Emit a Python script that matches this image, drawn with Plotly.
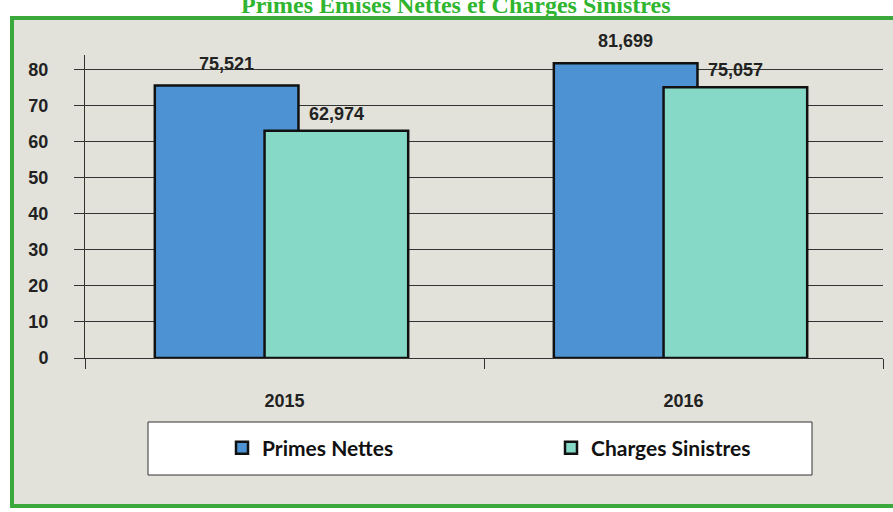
import plotly.graph_objects as go

# data
years = ['2015', '2016']
primes_nettes = [75.521, 81.699]
charges_sinistres = [62.974, 75.057]
y_ticks = [0, 10, 20, 30, 40, 50, 60, 70, 80]

BLUE = '#4d93d4'
TEAL = '#86d8c7'
BG = '#e2e2da'
GREEN = '#3aa83a'

# pixel layout helpers (plot area 85..883 x, 55..358 y)
L, R, T, B = 85, 10, 55, 154
W, H = 893, 512
pw, ph = W - L - R, H - T - B


def px(x):
    return (x - L) / pw


def py(y):
    return (H - B - y) / ph


def fmt(v):
    return f'{v:.3f}'.replace('.', ',')


fig = go.Figure()

fig.add_trace(go.Bar(
    x=years, y=primes_nettes, name='Primes Nettes',
    width=0.36, offset=-0.325,
    marker=dict(color=BLUE, line=dict(color='#111111', width=2.5)),
))
fig.add_trace(go.Bar(
    x=years, y=charges_sinistres, name='Charges Sinistres',
    width=0.36, offset=-0.05,
    marker=dict(color=TEAL, line=dict(color='#111111', width=2.5)),
))

annotations = []
for i, v in enumerate(primes_nettes):
    annotations.append(dict(x=i - 0.145, y=v, text=fmt(v), showarrow=False,
                            yanchor='bottom', yshift=10,
                            font=dict(family='Liberation Sans', size=18, color='#222222')))
for i, v in enumerate(charges_sinistres):
    annotations.append(dict(x=i + 0.13, y=v, text=fmt(v), showarrow=False,
                            yanchor='bottom', yshift=5,
                            font=dict(family='Liberation Sans', size=18, color='#222222')))

# title sitting just above the frame (cut at the top like the scan)
annotations.append(dict(xref='paper', yref='paper', x=px(455), y=py(5),
                        text='<b>Primes Emises Nettes et Charges Sinistres</b>',
                        showarrow=False, xanchor='center', yanchor='middle',
                        font=dict(family='Liberation Serif', size=24, color='#2fb52f')))

shapes = [
    # green frame with grey fill
    dict(type='rect', xref='paper', yref='paper', layer='below',
         x0=px(12), x1=px(960), y0=py(506), y1=py(18),
         fillcolor=BG, line=dict(color=GREEN, width=4)),
    # legend box
    dict(type='rect', xref='paper', yref='paper', layer='below',
         x0=px(148), x1=px(812), y0=py(475), y1=py(422),
         fillcolor='white', line=dict(color='#333333', width=1)),
]

fig.update_layout(
    width=W, height=H,
    margin=dict(l=L, r=R, t=T, b=B, autoexpand=False),
    paper_bgcolor='white',
    plot_bgcolor='rgba(0,0,0,0)',
    barmode='overlay',
    showlegend=True,
    legend=dict(orientation='h', xref='container', yref='container',
                x=222 / W, xanchor='left', y=1 - 448 / H, yanchor='middle',
                entrywidth=284, entrywidthmode='pixels', bgcolor='rgba(0,0,0,0)',
                font=dict(family='Lato', size=21, color='#111111', weight='bold'),
                itemclick=False),
    annotations=annotations,
    shapes=shapes,
    font=dict(family='Liberation Sans', color='#222222'),
)

fig.update_xaxes(
    type='category', range=[-0.5, 1.5], automargin=False,
    showline=True, linecolor='#333333', linewidth=1,
    ticks='outside', tickson='boundaries', ticklen=10, tickcolor='#333333',
    ticklabelstandoff=26,
    tickfont=dict(family='Liberation Sans', size=18, color='#222222', weight='bold'),
    showgrid=False,
)

fig.update_yaxes(
    range=[0, 84], tickvals=y_ticks, automargin=False,
    showline=True, linecolor='#333333', linewidth=1,
    ticks='outside', ticklen=10, tickcolor='#333333',
    ticklabelstandoff=22,
    tickfont=dict(family='Liberation Sans', size=18, color='#222222', weight='bold'),
    showgrid=True, gridcolor='#333333', gridwidth=1,
    zeroline=False,
)

fig.update_annotations(font_weight='bold')

# drop the default page margin so the figure fills the window
fig.write_html('out.html', config={'displayModeBar': False},
               post_script="document.body.style.margin='0';")
